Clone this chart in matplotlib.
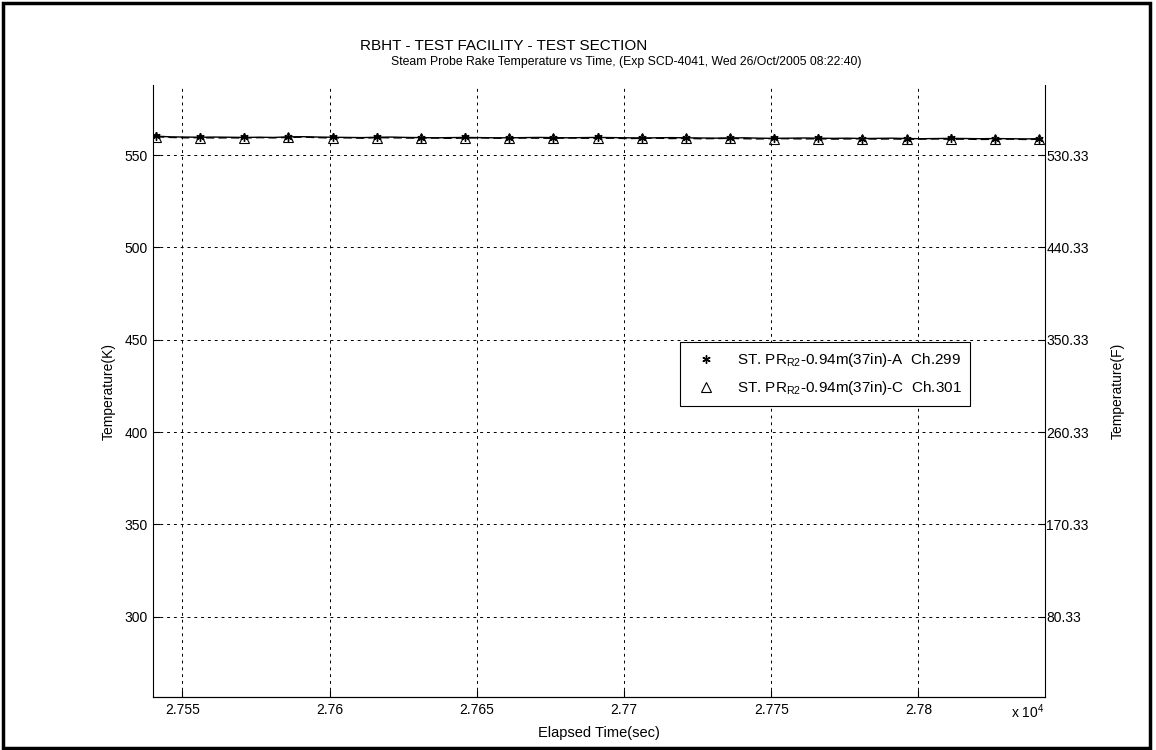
import numpy as np
import matplotlib
matplotlib.use("Agg")
import matplotlib.pyplot as plt
from matplotlib.lines import Line2D
from matplotlib.patches import Rectangle

plt.rcParams['font.family'] = ['Liberation Sans', 'DejaVu Sans']
plt.rcParams['mathtext.fontset'] = 'custom'
plt.rcParams['mathtext.rm'] = 'Liberation Sans'
plt.rcParams['mathtext.it'] = 'Liberation Sans'

# ---------------- data ----------------
t_start = 27541.0
t_step = 5.0
temp_A = [560.3, 559.9, 559.8, 559.7, 559.8, 559.7, 559.6, 559.7, 559.6, 559.9,
          560.0, 559.8, 559.7, 559.6, 559.5, 559.7, 559.8, 559.6, 559.5, 559.4,
          559.5, 559.6, 559.5, 559.4, 559.4, 559.5, 559.6, 559.5, 559.4, 559.5,
          559.6, 559.5, 559.4, 559.3, 559.4, 559.5, 559.4, 559.3, 559.2, 559.3,
          559.4, 559.2, 559.1, 559.2, 559.3, 559.2, 559.1, 559.2, 559.0, 559.1,
          559.2, 559.0, 558.9, 559.0, 559.1, 559.0, 558.9, 559.0, 558.9, 558.8,
          558.9]
temp_C = [560.0, 559.6, 559.4, 559.5, 559.3, 559.4, 559.3, 559.5, 559.4, 559.6,
          559.8, 559.5, 559.3, 559.4, 559.2, 559.5, 559.4, 559.3, 559.2, 559.3,
          559.1, 559.3, 559.4, 559.2, 559.1, 559.3, 559.2, 559.1, 559.3, 559.2,
          559.1, 559.2, 559.0, 559.1, 559.2, 559.0, 559.1, 558.9, 559.0, 559.1,
          558.9, 558.8, 559.0, 558.9, 558.8, 558.9, 558.7, 558.8, 558.9, 558.7,
          558.8, 558.6, 558.7, 558.8, 558.6, 558.7, 558.5, 558.6, 558.7, 558.5,
          558.6]
time = t_start + t_step * np.arange(len(temp_A))

label_A = r'ST. PR$_{\mathrm{R2}}$-0.94m(37in)-A  Ch.299'
label_C = r'ST. PR$_{\mathrm{R2}}$-0.94m(37in)-C  Ch.301'

x_ticks = [27550, 27600, 27650, 27700, 27750, 27800]
x_tick_labels = ['2.755', '2.76', '2.765', '2.77', '2.775', '2.78']
y_ticks_K = [300, 350, 400, 450, 500, 550]
x_lim = (27540, 27843)
y_lim_K = (256.5, 588)

FS = 10

# ---------------- figure ----------------
fig = plt.figure(figsize=(11.56, 7.5), dpi=100)
fig.patches.append(Rectangle((3/1156, 2/750), 1147/1156, 745/750, transform=fig.transFigure,
                             fill=False, edgecolor='black', linewidth=2.5))

ax = fig.add_axes([153/1156, 1 - 697/750, (1045 - 153)/1156, (697 - 85)/750])
ax.plot(time, temp_A, color='black', lw=1.0, ls='-')
ax.plot(time, temp_C, color='black', lw=1.0, ls=(0, (6, 3)))
ax.plot(time, temp_A, ls='none', marker=(6, 2, 0), ms=6, mec='black', mew=1.0, markevery=3)
ax.plot(time, temp_C, ls='none', marker='^', ms=7, mfc='none', mec='black', mew=0.8, markevery=3)

ax.set_xlim(*x_lim)
ax.set_ylim(*y_lim_K)
ax.set_xticks(x_ticks)
ax.set_xticklabels(x_tick_labels)
ax.set_yticks(y_ticks_K)
ax.grid(True, color='black', ls=(0, (3, 4)), lw=0.7)
ax.tick_params(direction='in', labelsize=FS, length=5, width=0.8, pad=4)
ax.spines['top'].set_visible(False)
ax.spines['right'].set_visible(False)
ax.set_xlabel('Elapsed Time(sec)', fontsize=10.5, labelpad=7)
ax.set_ylabel('Temperature(K)', fontsize=FS, labelpad=6)

ax2 = ax.twinx()
ax2.set_ylim(y_lim_K[0] * 1.8 - 459.67, y_lim_K[1] * 1.8 - 459.67)
ax2.set_yticks([k * 1.8 - 459.67 for k in y_ticks_K])
ax2.set_yticklabels(['%.2f' % (k * 1.8 - 459.67) for k in y_ticks_K])
ax2.tick_params(direction='in', labelsize=FS, length=5, width=0.8, pad=1)
ax2.spines['top'].set_visible(False)
ax2.spines['left'].set_visible(False)
ax2.set_ylabel('Temperature(F)', fontsize=FS, labelpad=16)

handles = [Line2D([], [], ls='none', marker=(6, 2, 0), ms=6, mec='black', mew=1.0),
           Line2D([], [], ls='none', marker='^', ms=7, mfc='none', mec='black', mew=0.8)]
leg = ax.legend(handles, [label_A, label_C], loc='upper left',
                bbox_to_anchor=((680 - 153)/892, (697 - 342)/612), fontsize=11,
                frameon=True, fancybox=False, edgecolor='black', framealpha=1,
                borderpad=0.6, borderaxespad=0, handletextpad=0.9, labelspacing=0.65,
                handlelength=2.2)
leg.get_frame().set_linewidth(0.8)

fig.text(504/1156, 1 - 46/750, 'RBHT - TEST FACILITY - TEST SECTION', ha='center', va='center', fontsize=11)
fig.text(626/1156, 1 - 62/750,
         'Steam Probe Rake Temperature vs Time, (Exp SCD-4041, Wed 26/Oct/2005 08:22:40)',
         ha='center', va='center', fontsize=8.8)
fig.text(1028/1156, 1 - 712/750, r'x 10$^{4}$', ha='center', va='center', fontsize=FS)

fig.savefig('out.png', dpi=100)
